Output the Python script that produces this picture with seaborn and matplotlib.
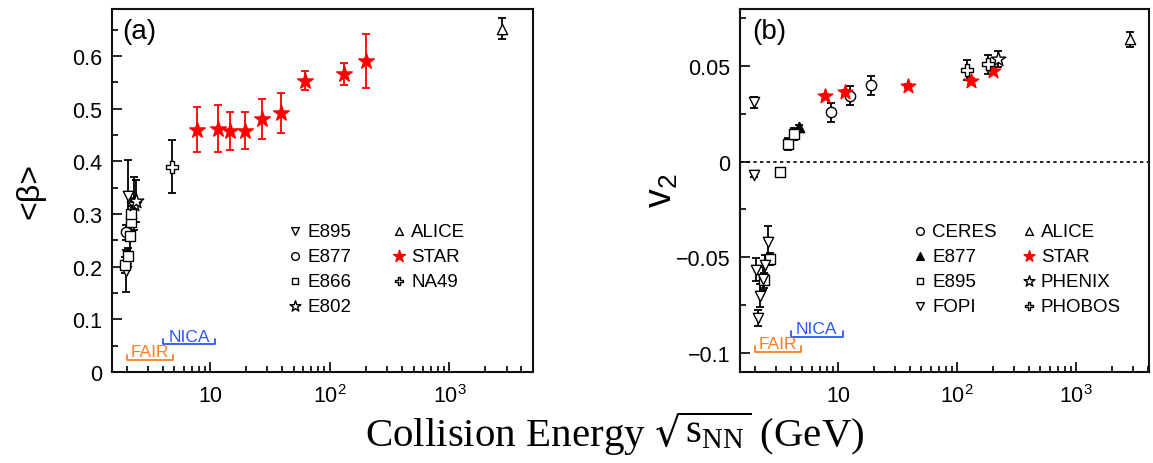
import matplotlib
matplotlib.use("Agg")
import matplotlib.pyplot as plt
import matplotlib.ticker as mticker
import seaborn as sns

sns.set_theme(style="ticks")
plt.rcParams['font.family'] = ['Liberation Sans', 'DejaVu Sans']
plt.rcParams['mathtext.default'] = 'regular'
plt.rcParams['text.color'] = 'black'
plt.rcParams['xtick.color'] = 'black'
plt.rcParams['ytick.color'] = 'black'
plt.rcParams['xtick.labelcolor'] = 'black'
plt.rcParams['ytick.labelcolor'] = 'black'

# =========================
# PANEL (a) : <beta> vs energy
# =========================
e895_a_x = [2.03, 1.97]
e895_a_y = [0.334, 0.192]
e895_a_err = [0.068, 0.040]

e877_a_x = [1.96]
e877_a_y = [0.265]
e877_a_err = [0.015]

e866_a_x = [1.92, 2.03, 2.12, 2.16, 2.18]
e866_a_y = [0.204, 0.221, 0.258, 0.285, 0.300]
e866_a_err = [0.015, 0.015, 0.030, 0.030, 0.030]

e802_a_x = [2.30, 2.40]
e802_a_y = [0.320, 0.325]
e802_a_err = [0.050, 0.040]

alice_a_x = [2760]
alice_a_y = [0.652]
alice_a_err = [0.020]

star_a_x = [7.7, 11.5, 14.5, 19.6, 27, 39, 62.4, 130, 200]
star_a_y = [0.460, 0.462, 0.458, 0.458, 0.481, 0.491, 0.553, 0.566, 0.591]
star_a_err = [0.043, 0.045, 0.036, 0.035, 0.038, 0.038, 0.018, 0.020, 0.051]

na49_a_x = [4.8]
na49_a_y = [0.390]
na49_a_err = [0.050]

# =========================
# PANEL (b) : v2 vs energy
# =========================
ceres_b_x = [8.76, 12.5, 19.0]
ceres_b_y = [0.0258, 0.0345, 0.0400]
ceres_b_err = [0.005, 0.005, 0.005]

e877_b_x = [4.74]
e877_b_y = [0.0180]
e877_b_err = [0.001]

e895_b_x = [3.27, 3.79, 4.30, 2.69, 2.40]
e895_b_y = [-0.0052, 0.0092, 0.0145, -0.0508, -0.0620]
e895_b_err = [0.002, 0.003, 0.003, 0.003, 0.004]

fopi_b_x = [1.95, 1.95, 2.04, 2.12, 2.22, 2.34, 2.45, 2.58]
fopi_b_y = [0.0310, -0.0068, -0.0564, -0.0817, -0.0700, -0.0612, -0.0540, -0.0418]
fopi_b_err = [0.003, 0.001, 0.006, 0.004, 0.006, 0.006, 0.005, 0.008]

alice_b_x = [2820]
alice_b_y = [0.0640]
alice_b_err = [0.004]

star_b_x = [7.7, 11.5, 39, 130, 200]
star_b_y = [0.0341, 0.0362, 0.0394, 0.0423, 0.0475]
star_b_err = [0.0015, 0.0015, 0.0010, 0.0015, 0.0015]

phenix_b_x = [222]
phenix_b_y = [0.0536]
phenix_b_err = [0.004]

phobos_b_x = [120, 181]
phobos_b_y = [0.0479, 0.0510]
phobos_b_err = [0.005, 0.005]

# facility ranges (GeV)
fair_range = [2.0, 4.9]
nica_range = [4.0, 11.0]

RED = "#ff0000"
FAIR_COL = "#ff7f27"
NICA_COL = "#2b55ff"

panel_a = [
    ("E895", e895_a_x, e895_a_y, e895_a_err, "v", "white", 55),
    ("E877", e877_a_x, e877_a_y, e877_a_err, "o", "white", 55),
    ("E866", e866_a_x, e866_a_y, e866_a_err, "s", "white", 45),
    ("E802", e802_a_x, e802_a_y, e802_a_err, "*", "white", 120),
    ("ALICE", alice_a_x, alice_a_y, alice_a_err, "^", "white", 55),
    ("STAR", star_a_x, star_a_y, star_a_err, "*", RED, 140),
    ("NA49", na49_a_x, na49_a_y, na49_a_err, "P", "white", 65),
]

panel_b = [
    ("CERES", ceres_b_x, ceres_b_y, ceres_b_err, "o", "white", 55),
    ("E877", e877_b_x, e877_b_y, e877_b_err, "^", "black", 55),
    ("E895", e895_b_x, e895_b_y, e895_b_err, "s", "white", 45),
    ("FOPI", fopi_b_x, fopi_b_y, fopi_b_err, "v", "white", 55),
    ("ALICE", alice_b_x, alice_b_y, alice_b_err, "^", "white", 55),
    ("STAR", star_b_x, star_b_y, star_b_err, "*", RED, 120),
    ("PHENIX", phenix_b_x, phenix_b_y, phenix_b_err, "*", "white", 120),
    ("PHOBOS", phobos_b_x, phobos_b_y, phobos_b_err, "P", "white", 65),
]

fig = plt.figure(figsize=(11.53, 4.64), dpi=100)
ax_a = fig.add_axes([0.0971, 0.196, 0.3652, 0.782])
ax_b = fig.add_axes([0.6418, 0.196, 0.3548, 0.782])


def draw_panel(ax, series):
    for name, xs, ys, errs, mk, face, size in series:
        ecol = RED if face == RED else "black"
        ax.errorbar(xs, ys, yerr=errs, fmt="none", ecolor=ecol,
                    elinewidth=1.3, capsize=3, capthick=1.3, zorder=2)
        sns.scatterplot(x=xs, y=ys, marker=mk, s=size, color=face,
                        edgecolor=ecol, linewidth=1.0, ax=ax,
                        label=name, zorder=3)


def bracket(ax, rng, y, h, txt, col):
    ax.plot([rng[0], rng[0], rng[1], rng[1]], [y + h, y, y, y + h],
            color=col, lw=1.3, zorder=1)
    ax.text((rng[0] * rng[1]) ** 0.5, y + 0.1 * h, txt, color=col,
            fontsize=12.5, ha="center", va="bottom")


def style_axes(ax, xmax, ylim, yticks, ylabels, yminor):
    ax.set_xscale("log")
    ax.set_xlim(1.5, xmax)
    ax.set_ylim(*ylim)
    ax.set_xticks([10, 100, 1000])
    ax.set_xticklabels(["10", "10$^2$", "10$^3$"])
    ax.xaxis.set_minor_locator(mticker.LogLocator(base=10, subs=range(2, 10), numticks=20))
    ax.xaxis.set_minor_formatter(mticker.NullFormatter())
    ax.set_yticks(yticks)
    ax.set_yticklabels(ylabels)
    ax.yaxis.set_minor_locator(mticker.MultipleLocator(yminor))
    ax.tick_params(which="both", direction="in", top=False, right=False,
                   labelsize=15.5, color="black", labelcolor="black", width=1.2)
    ax.tick_params(which="major", length=7)
    ax.tick_params(which="minor", length=4)
    ax.tick_params(axis="y", pad=7)
    ax.tick_params(axis="x", pad=9)
    for sp in ax.spines.values():
        sp.set_linewidth(1.5)
        sp.set_color("#111111")
    ax.set_xlabel("")
    ax.set_ylabel("")


draw_panel(ax_a, panel_a)
style_axes(ax_a, 5000, (0, 0.689), [0, 0.1, 0.2, 0.3, 0.4, 0.5, 0.6],
           ["0", "0.1", "0.2", "0.3", "0.4", "0.5", "0.6"], 0.05)
bracket(ax_a, fair_range, 0.023, 0.010, "FAIR", FAIR_COL)
bracket(ax_a, nica_range, 0.053, 0.010, "NICA", NICA_COL)
ax_a.legend(ncol=2, loc="upper left", bbox_to_anchor=(0.375, 0.458),
            frameon=False, fontsize=13.5, markerscale=0.75, handlelength=0.9,
            handletextpad=0.2, columnspacing=2.1, labelspacing=0.42)
ax_a.text(0.025, 0.975, "(a)", transform=ax_a.transAxes, fontsize=20,
          ha="left", va="top")

draw_panel(ax_b, panel_b)
ax_b.axhline(0, color="black", lw=1.2, ls=(0, (2, 2)), zorder=1)
style_axes(ax_b, 4100, (-0.11, 0.0797), [-0.1, -0.05, 0, 0.05],
           ["\u22120.1", "\u22120.05", "0", "0.05"], 0.025)
bracket(ax_b, fair_range, -0.0995, 0.003, "FAIR", FAIR_COL)
bracket(ax_b, nica_range, -0.0917, 0.003, "NICA", NICA_COL)
ax_b.legend(ncol=2, loc="upper left", bbox_to_anchor=(0.378, 0.458),
            frameon=False, fontsize=13.5, markerscale=0.75, handlelength=0.9,
            handletextpad=0.2, columnspacing=1.25, labelspacing=0.42)
ax_b.text(0.03, 0.975, "(b)", transform=ax_b.transAxes, fontsize=20,
          ha="left", va="top")

fig.text(0.026, 0.588, "<\u03b2>", rotation=90, fontsize=23,
         ha="center", va="center")
fig.text(0.574, 0.588, "v$_2$", rotation=90, fontsize=27,
         ha="center", va="center")
fig.text(0.533, 0.036, r"Collision Energy $\sqrt{s_{NN}}$ (GeV)",
         fontsize=29.5, family=["Liberation Serif", "DejaVu Serif"],
         ha="center", va="baseline")

fig.savefig("out.png", dpi=100)
